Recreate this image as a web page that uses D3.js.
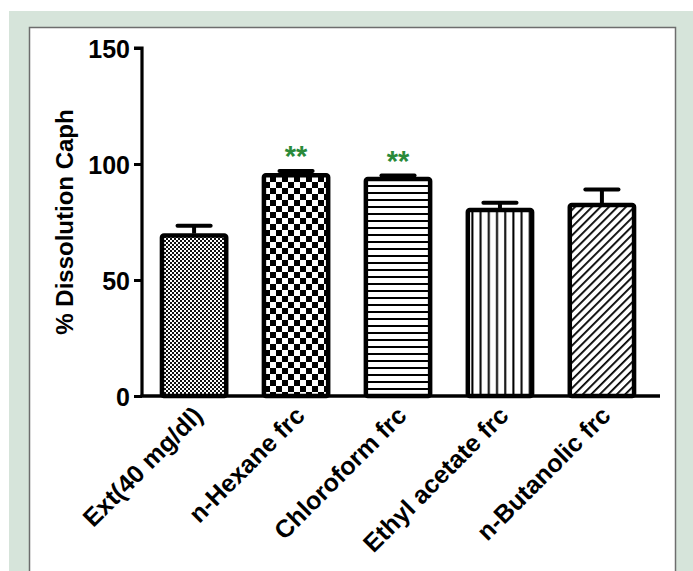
<!DOCTYPE html>
<html>
<head>
<meta charset="utf-8">
<script src="https://cdn.jsdelivr.net/npm/d3@7"></script>
<style>
  html, body { margin: 0; padding: 0; background: #ffffff; }
  svg { display: block; }
  text { font-family: "Liberation Sans", Arial, sans-serif; font-weight: bold; }
</style>
</head>
<body>
<svg id="chart" width="693" height="571"></svg>
<script>
// Dissolution of calcium phosphate by extract and its fractions
const categories = ["Ext(40 mg/dl)", "n-Hexane frc", "Chloroform frc", "Ethyl acetate frc", "n-Butanolic frc"];
const means = [70, 96, 94.4, 81, 83.2];
const errors = [3.4, 1, 0.6, 2.3, 5.8];
const significance = ["", "**", "**", "", ""];
const yTicks = [0, 50, 100, 150];
const patternIds = ["fineCheck", "coarseCheck", "hLines", "vLines", "diagLines"];

const svg = d3.select("#chart");

// frame
svg.append("rect").attr("x", 9).attr("y", 11).attr("width", 684).attr("height", 560).attr("fill", "#d6e4da");
svg.append("rect").attr("x", 29.5).attr("y", 27.5).attr("width", 646).attr("height", 560)
  .attr("fill", "#ffffff").attr("stroke", "#6d6d6d").attr("stroke-width", 1.5);

// fill patterns
const defs = svg.append("defs");
{
  const p = defs.append("pattern").attr("id", "fineCheck").attr("patternUnits", "userSpaceOnUse")
    .attr("width", 4).attr("height", 4);
  p.append("rect").attr("width", 4).attr("height", 4).attr("fill", "#fff");
  p.append("rect").attr("width", 2).attr("height", 2).attr("fill", "#111");
  p.append("rect").attr("x", 2).attr("y", 2).attr("width", 2).attr("height", 2).attr("fill", "#111");
}
{
  const p = defs.append("pattern").attr("id", "coarseCheck").attr("patternUnits", "userSpaceOnUse")
    .attr("width", 12).attr("height", 12).attr("x", 0).attr("y", 2);
  p.append("rect").attr("width", 12).attr("height", 12).attr("fill", "#fff");
  p.append("rect").attr("width", 6).attr("height", 6).attr("fill", "#000");
  p.append("rect").attr("x", 6).attr("y", 6).attr("width", 6).attr("height", 6).attr("fill", "#000");
}
{
  const p = defs.append("pattern").attr("id", "hLines").attr("patternUnits", "userSpaceOnUse")
    .attr("width", 8).attr("height", 7);
  p.append("rect").attr("width", 8).attr("height", 7).attr("fill", "#fff");
  p.append("rect").attr("y", 3).attr("width", 8).attr("height", 2).attr("fill", "#000");
}
{
  const p = defs.append("pattern").attr("id", "vLines").attr("patternUnits", "userSpaceOnUse")
    .attr("width", 8.2).attr("height", 8).attr("x", 1);
  p.append("rect").attr("width", 8.2).attr("height", 8).attr("fill", "#fff");
  p.append("rect").attr("x", 3).attr("width", 2).attr("height", 8).attr("fill", "#000");
}
{
  const p = defs.append("pattern").attr("id", "diagLines").attr("patternUnits", "userSpaceOnUse")
    .attr("width", 6).attr("height", 6).attr("patternTransform", "rotate(45)");
  p.append("rect").attr("width", 6).attr("height", 6).attr("fill", "#fff");
  p.append("rect").attr("x", 0).attr("width", 1.8).attr("height", 6).attr("fill", "#000");
}

const x0 = 142, x1 = 660;
const y = d3.scaleLinear().domain([0, 150]).range([396, 48]);
const x = d3.scaleBand().domain(categories).range([143, 653]).paddingInner(0.35).paddingOuter(0.176);

const g = svg.append("g");

// bars
g.selectAll("rect.bar").data(categories).join("rect")
  .attr("class", "bar")
  .attr("x", d => x(d) + 1)
  .attr("y", (d, i) => y(means[i]) + 2)
  .attr("width", x.bandwidth() - 2)
  .attr("height", (d, i) => y(0) - y(means[i]) - 2)
  .attr("rx", 2)
  .attr("fill", (d, i) => `url(#${patternIds[i]})`)
  .attr("stroke", "#000").attr("stroke-width", 4.5);

// error bars (upper)
const cap = x.bandwidth() / 2;
categories.forEach((c, i) => {
  const cx = x(c) + x.bandwidth() / 2;
  const top = y(means[i] + errors[i]);
  g.append("line").attr("x1", cx).attr("x2", cx).attr("y1", y(means[i])).attr("y2", top)
    .attr("stroke", "#000").attr("stroke-width", 4);
  g.append("line").attr("x1", cx - cap / 2).attr("x2", cx + cap / 2).attr("y1", top).attr("y2", top)
    .attr("stroke", "#000").attr("stroke-width", 4).attr("stroke-linecap", "round");
  if (significance[i]) {
    g.append("text").attr("x", cx).attr("y", top - 5)
      .attr("text-anchor", "middle").attr("font-size", 29).attr("fill", "#2a8a3a")
      .text(significance[i]);
  }
});

// y axis
const yAxis = d3.axisLeft(y).tickValues(yTicks).tickSize(8).tickPadding(4);
const ya = svg.append("g").attr("transform", `translate(${x0},0)`).call(yAxis);
ya.select(".domain").attr("stroke-width", 3.2).attr("d", `M-8,${y(150)}H0V${y(0)}`);
ya.selectAll(".tick line").attr("stroke-width", 3);
ya.selectAll(".tick text").attr("font-size", 25).attr("font-family", "Liberation Sans, Arial, sans-serif")
  .attr("font-weight", "bold").attr("fill", "#000").attr("dy", "0.36em");

// x axis line
svg.append("line").attr("x1", x0 - 1.5).attr("x2", x1).attr("y1", y(0)).attr("y2", y(0))
  .attr("stroke", "#000").attr("stroke-width", 3.5);

// category labels
categories.forEach(c => {
  const cx = x(c) + x.bandwidth() / 2 + 4;
  svg.append("text")
    .attr("transform", `translate(${cx},${y(0) + 15}) rotate(-45)`)
    .attr("text-anchor", "end").attr("font-size", 25).attr("fill", "#000")
    .attr("dy", "0.35em")
    .text(c);
});

// y axis title
svg.append("text")
  .attr("transform", `translate(73,${(y(0) + y(150)) / 2}) rotate(-90)`)
  .attr("text-anchor", "middle").attr("font-size", 24).attr("fill", "#000")
  .text("% Dissolution Caph");
</script>
</body>
</html>
